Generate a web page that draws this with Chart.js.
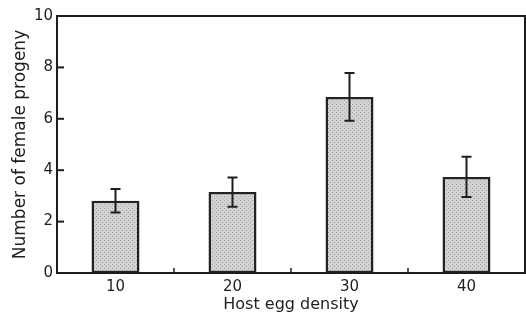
<!DOCTYPE html>
<html>
<head>
<meta charset="utf-8">
<script src="https://cdn.jsdelivr.net/npm/chart.js@4"></script>
<style>
  html, body { margin: 0; padding: 0; background: #fff; }
  #wrap { width: 526px; height: 314px; }
</style>
</head>
<body>
<div id="wrap"><canvas id="progenyChart" width="526" height="314"></canvas></div>
<script>
// Data
const densities = ["10", "20", "30", "40"];
const meanProgeny = [2.81, 3.15, 6.85, 3.74];
const errProgeny = [0.46, 0.57, 0.93, 0.78];
const yTicks = [0, 2, 4, 6, 8, 10];

const ink = "#1e1e1e";

// stippled grey fill like the print
function stipple() {
  const c = document.createElement("canvas");
  c.width = 4; c.height = 4;
  const g = c.getContext("2d");
  g.fillStyle = "#d2d2d2";
  g.fillRect(0, 0, 4, 4);
  g.fillStyle = "#a8a8a8";
  g.fillRect(0, 0, 1, 1);
  g.fillRect(2, 2, 1, 1);
  return g.createPattern(c, "repeat");
}

// frame, inward ticks and error bars
const extras = {
  id: "extras",
  afterDatasetsDraw(chart) {
    const { ctx, chartArea: a } = chart;
    const x = chart.scales.x, y = chart.scales.y;
    ctx.save();
    ctx.strokeStyle = ink;
    ctx.lineWidth = 2;
    ctx.strokeRect(a.left, a.top, a.right - a.left, a.bottom - a.top);

    // y ticks pointing into the plot
    yTicks.forEach(v => {
      const py = y.getPixelForValue(v);
      ctx.beginPath();
      ctx.moveTo(a.left, py);
      ctx.lineTo(a.left + 7, py);
      ctx.stroke();
    });

    // small x ticks between categories
    ctx.lineWidth = 1.5;
    for (let i = 0; i < densities.length - 1; i++) {
      const px = (x.getPixelForValue(i) + x.getPixelForValue(i + 1)) / 2;
      ctx.beginPath();
      ctx.moveTo(px, a.bottom);
      ctx.lineTo(px, a.bottom - 5);
      ctx.stroke();
    }

    // error bars
    const meta = chart.getDatasetMeta(0);
    ctx.lineWidth = 2;
    meta.data.forEach((bar, i) => {
      const hi = y.getPixelForValue(meanProgeny[i] + errProgeny[i]);
      const lo = y.getPixelForValue(meanProgeny[i] - errProgeny[i]);
      ctx.beginPath();
      ctx.moveTo(bar.x, hi);
      ctx.lineTo(bar.x, lo);
      ctx.moveTo(bar.x - 5, hi);
      ctx.lineTo(bar.x + 5, hi);
      ctx.moveTo(bar.x - 5, lo);
      ctx.lineTo(bar.x + 5, lo);
      ctx.stroke();
    });
    ctx.restore();
  }
};

const ctx = document.getElementById("progenyChart").getContext("2d");
new Chart(ctx, {
  type: "bar",
  data: {
    labels: densities,
    datasets: [{
      data: meanProgeny,
      backgroundColor: stipple(),
      borderColor: "#222",
      borderWidth: 2.5,
      borderSkipped: false,
      barPercentage: 0.41,
      categoryPercentage: 1
    }]
  },
  options: {
    responsive: false,
    animation: false,
    layout: { padding: { top: 16, right: 1, left: 0, bottom: 0 } },
    plugins: { legend: { display: false }, tooltip: { enabled: false } },
    scales: {
      x: {
        grid: { display: false },
        border: { display: false },
        ticks: { color: ink, padding: -3, font: { family: "DejaVu Sans", size: 15 } },
        title: {
          display: true,
          text: "Host egg density",
          color: ink,
          padding: 0,
          font: { family: "DejaVu Sans", size: 16 }
        },
        afterFit(scale) { scale.height = 41; }
      },
      y: {
        min: 0,
        max: 10,
        grid: { display: false },
        border: { display: false },
        ticks: { stepSize: 2, color: ink, padding: -4, font: { family: "DejaVu Sans", size: 15 } },
        title: {
          display: true,
          text: "Number of female progeny",
          color: ink,
          padding: { top: 10, bottom: 0 },
          font: { family: "DejaVu Sans", size: 17 }
        },
        afterFit(scale) { scale.width = 57; }
      }
    }
  },
  plugins: [extras]
});
</script>
</body>
</html>
